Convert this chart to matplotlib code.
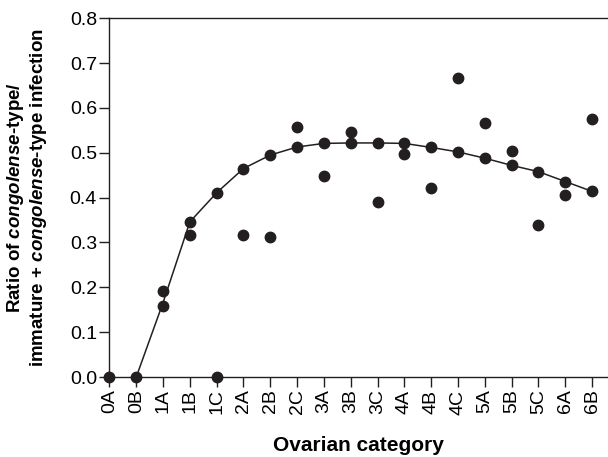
import matplotlib
matplotlib.use('Agg')
import matplotlib.pyplot as plt

plt.rcParams['font.family'] = 'Liberation Sans'
plt.rcParams['mathtext.fontset'] = 'custom'
plt.rcParams['mathtext.rm'] = 'Liberation Sans:bold'
plt.rcParams['mathtext.it'] = 'Liberation Sans:italic:bold'
plt.rcParams['mathtext.bf'] = 'Liberation Sans:bold'

# Ovarian categories along the x axis
categories = ['0A', '0B', '1A', '1B', '1C', '2A', '2B', '2C', '3A', '3B',
              '3C', '4A', '4B', '4C', '5A', '5B', '5C', '6A', '6B']

# Observed ratios (two per category where present, None = no point)
obs_a = [0.0, 0.0, 0.192, 0.346, 0.411, 0.465, 0.495, 0.558, 0.521, 0.546,
         0.522, 0.521, 0.512, 0.667, 0.567, 0.505, 0.458, 0.436, 0.575]
obs_b = [None, None, 0.158, 0.317, 0.0, 0.317, 0.312, 0.513, 0.448, 0.522,
         0.391, 0.497, 0.422, 0.502, 0.488, 0.472, 0.339, 0.406, 0.414]

# Fitted curve (starts at 0B)
fit_cats = categories[1:]
fit_vals = [0.0, 0.166, 0.346, 0.411, 0.465, 0.495, 0.513, 0.521, 0.522,
            0.522, 0.521, 0.512, 0.502, 0.488, 0.472, 0.458, 0.436, 0.414]

fig = plt.figure(figsize=(6.08, 4.57), dpi=100)
ax = fig.add_axes([0.180, 0.175, 0.818, 0.785])

x = list(range(len(categories)))
xa = [i for i, v in zip(x, obs_a) if v is not None]
ya = [v for v in obs_a if v is not None]
xb = [i for i, v in zip(x, obs_b) if v is not None]
yb = [v for v in obs_b if v is not None]

fx = [categories.index(c) for c in fit_cats]
ax.plot(fx, fit_vals, color='#231f20', lw=1.1, zorder=2)
ax.plot(xa, ya, 'o', color='#231f20', ms=7.5, zorder=3, clip_on=False)
ax.plot(xb, yb, 'o', color='#231f20', ms=7.5, zorder=3, clip_on=False)

ax.set_xlim(0, 18.55)
ax.set_ylim(0, 0.8)
ax.set_xticks(x)
ax.set_xticklabels(categories, rotation=90, fontsize=14)
ax.set_yticks([0, 0.1, 0.2, 0.3, 0.4, 0.5, 0.6, 0.7, 0.8])
ax.set_yticklabels(['0.0', '0.1', '0.2', '0.3', '0.4', '0.5', '0.6', '0.7', '0.8'],
                   fontsize=14)
ax.tick_params(direction='out', length=7, width=1.0, color='#231f20', pad=2)
ax.spines['right'].set_visible(False)
for s in ['left', 'bottom', 'top']:
    ax.spines[s].set_linewidth(1.0)
    ax.spines[s].set_color('#231f20')

ax.set_xlabel('Ovarian category', fontsize=15, fontweight='bold')
ax.xaxis.set_label_coords(0.5, -0.165)
ax.xaxis.label.set_va('top')
ax.set_ylabel('Ratio of $\\it{congolense}$-type/\n'
              'immature + $\\it{congolense}$-type infection',
              fontsize=13.5, fontweight='bold', linespacing=1.1)
ax.yaxis.set_label_coords(-0.122, 0.5)

plt.savefig('out.png', dpi=100)
